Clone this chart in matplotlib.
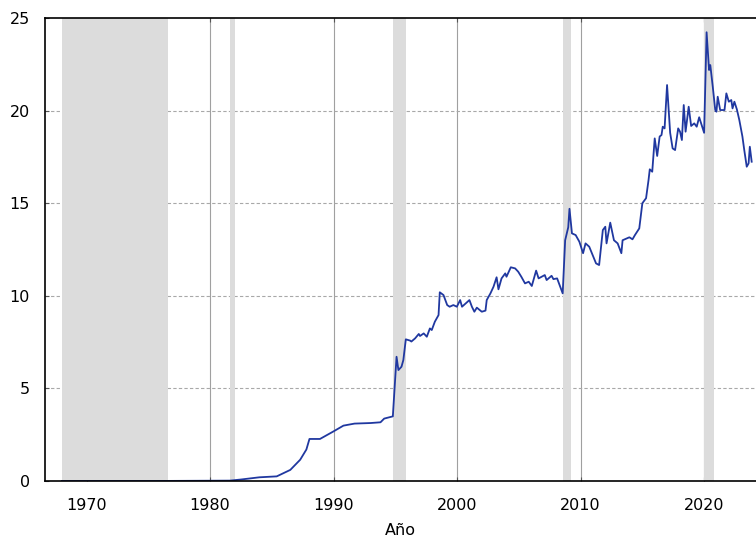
import matplotlib
matplotlib.use('Agg')
import matplotlib.pyplot as plt
import numpy as np

# series (year, value)
years = [1968.0, 1975.0, 1981.6, 1982.5, 1984.0, 1985.4, 1986.5, 1987.3, 1987.8, 1988.05,
         1988.9, 1990.0, 1990.8, 1991.7, 1993.0, 1993.8, 1994.1, 1994.8, 1995.0, 1995.1,
         1995.25, 1995.5, 1995.65, 1995.85, 1996.2, 1996.3, 1996.6, 1996.9, 1997.0, 1997.3,
         1997.55, 1997.8, 1997.95, 1998.2, 1998.5, 1998.6, 1998.9, 1999.2, 1999.4, 1999.7,
         1999.98, 2000.25, 2000.4, 2000.7, 2001.0, 2001.2, 2001.4, 2001.6, 2002.0, 2002.3,
         2002.4, 2002.7, 2002.95, 2003.2, 2003.35, 2003.6, 2003.9, 2004.0, 2004.35, 2004.7,
         2004.95, 2005.2, 2005.5, 2005.8, 2006.05, 2006.4, 2006.6, 2007.1, 2007.25, 2007.65,
         2007.8, 2008.1, 2008.55, 2008.75, 2009.0, 2009.1,
         2009.3, 2009.6, 2009.9, 2010.2, 2010.4, 2010.7, 2011.25, 2011.5, 2011.8, 2012.0,
         2012.1, 2012.4, 2012.7, 2013.0, 2013.3, 2013.4, 2013.95, 2014.2, 2014.4, 2014.75,
         2015.0, 2015.3, 2015.5, 2015.6, 2015.8, 2016.0, 2016.2, 2016.4, 2016.55, 2016.65,
         2016.8, 2017.0, 2017.25, 2017.45, 2017.65, 2017.9, 2018.05, 2018.2, 2018.35, 2018.5,
         2018.75, 2018.95, 2019.2, 2019.4, 2019.6, 2019.8, 2020.0, 2020.2, 2020.4, 2020.5,
         2020.7, 2020.9, 2021.0, 2021.1, 2021.3, 2021.65, 2021.8, 2022.0, 2022.2, 2022.3,
         2022.45, 2022.65, 2022.85, 2023.1, 2023.25, 2023.45, 2023.6, 2023.7, 2023.85]
values = [0.0, 0.0, 0.02, 0.08, 0.2, 0.25, 0.6, 1.15, 1.7, 2.27,
          2.27, 2.68, 2.99, 3.1, 3.13, 3.17, 3.37, 3.49, 5.65, 6.71,
          5.99, 6.17, 6.53, 7.65, 7.58, 7.53, 7.7, 7.94, 7.83, 7.97,
          7.79, 8.24, 8.15, 8.6, 8.96, 10.19, 10.04, 9.5, 9.41, 9.5,
          9.41, 9.77, 9.41, 9.59, 9.77, 9.41, 9.14, 9.36, 9.14, 9.2,
          9.77, 10.13, 10.49, 11.0, 10.35, 10.94, 11.21, 11.03, 11.54, 11.48,
          11.3, 11.03, 10.67, 10.76, 10.53, 11.36, 10.94, 11.12, 10.85, 11.08,
          10.9, 10.94, 10.13, 13.0, 13.7, 14.7,
          13.37, 13.28, 12.92, 12.3, 12.83, 12.65, 11.75, 11.66, 13.55, 13.73,
          12.83, 13.95, 13.0, 12.83, 12.3, 13.0, 13.16, 13.05, 13.28, 13.64,
          15.0, 15.27, 16.25, 16.83, 16.7, 18.5, 17.55, 18.6, 18.68, 19.13,
          19.04, 21.38, 18.8, 17.96, 17.87, 19.04, 18.86, 18.41, 20.3, 18.86,
          20.21, 19.17, 19.31, 19.13, 19.64, 19.22, 18.8, 24.23, 22.19, 22.46,
          21.29, 20.03, 19.94, 20.75, 20.03, 20.03, 20.93, 20.48, 20.57, 20.12,
          20.48, 20.07, 19.49, 18.6, 17.87, 16.97, 17.15, 18.05, 17.24]

# shaded periods
band_start = [1968.0, 1981.6, 1994.8, 2008.6, 2020.0]
band_end = [1976.6, 1982.0, 1995.9, 2009.2, 2020.8]

xticks = [1970, 1980, 1990, 2000, 2010, 2020]
yticks = [0, 5, 10, 15, 20, 25]

plt.rcParams['font.family'] = ['DejaVu Sans']
fig = plt.figure(figsize=(7.56, 5.38), dpi=100)
ax = fig.add_axes([45/756, 1 - 481/538, 1 - 45/756, (481 - 18)/538])

for a, b in zip(band_start, band_end):
    ax.axvspan(a, b, color='#dcdcdc', lw=0, zorder=2)

for x in xticks:
    ax.axvline(x, color='#a0a0a0', lw=0.8, zorder=1)
for y in yticks[1:-1]:
    ax.axhline(y, color='#a8a8a8', lw=0.8, ls=(0, (3, 2)), zorder=1)

ax.plot(years, values, color='#2038a0', lw=1.3, zorder=3)

ax.set_xlim(1966.64, 2024.2)
ax.set_ylim(0, 25)
ax.set_xticks(xticks)
ax.set_yticks(yticks)
ax.tick_params(axis='both', labelsize=11.5, length=3, direction='in', color='#555555')
ax.tick_params(axis='x', top=True, pad=12)
ax.tick_params(axis='y', pad=11)
ax.spines['right'].set_visible(False)
for s in ['left', 'top', 'bottom']:
    ax.spines[s].set_linewidth(1.2)
    ax.spines[s].set_zorder(4)
ax.set_xlabel('Año', fontsize=11.5)
ax.xaxis.set_label_coords(0.5, -0.091)

fig.savefig('out.png', dpi=100)
